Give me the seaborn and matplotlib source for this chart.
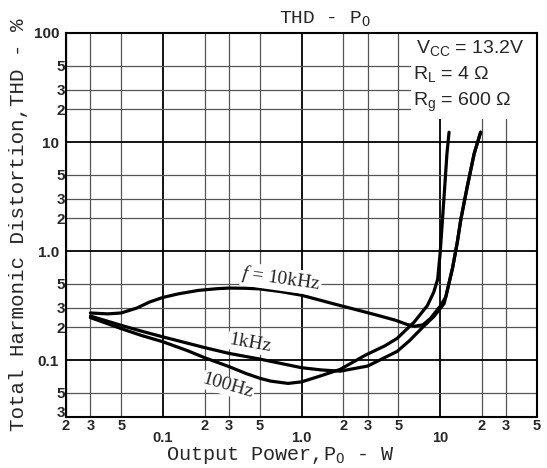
import numpy as np
import pandas as pd
import matplotlib
matplotlib.use("Agg")
import matplotlib.pyplot as plt
import seaborn as sns
from matplotlib.ticker import FixedLocator, FixedFormatter
from matplotlib.patches import Rectangle

# ---- data (log-log) ----
p_100hz = [0.03, 0.04, 0.05, 0.07, 0.1, 0.15, 0.2, 0.3, 0.4, 0.5, 0.6, 0.8, 1.0, 1.35,
           1.9, 2.9, 4.0, 4.9, 6.5, 8.1, 9.0, 9.6, 10.0, 10.4, 10.8, 11.2, 11.6]
thd_100hz = [0.245, 0.215, 0.194, 0.168, 0.147, 0.122, 0.105, 0.087, 0.075, 0.068, 0.064,
             0.061, 0.063, 0.071, 0.082, 0.111, 0.135, 0.158, 0.223, 0.316, 0.42, 0.55,
             0.95, 1.94, 3.9, 7.8, 12.3]

p_1khz = [0.03, 0.05, 0.07, 0.1, 0.2, 0.3, 0.5, 1.0, 1.4, 1.9, 3.0, 4.9, 6.0, 7.5, 9.0,
          10.7, 12.3, 13.3, 14.1, 15.7, 17.6, 19.6]
thd_1khz = [0.253, 0.208, 0.184, 0.163, 0.13, 0.115, 0.102, 0.085, 0.081, 0.079, 0.088,
            0.12, 0.15, 0.2, 0.25, 0.33, 0.7, 1.2, 1.94, 3.9, 7.8, 12.3]

p_10khz = [0.03, 0.04, 0.05, 0.065, 0.08, 0.1, 0.13, 0.18, 0.25, 0.3, 0.4, 0.5, 0.7, 1.0,
           1.7, 2.6, 3.5, 4.8, 5.7, 6.5, 7.5, 8.5, 10.1, 11.0, 12.3, 13.3, 14.1, 15.7,
           17.6, 19.6]
thd_10khz = [0.27, 0.265, 0.27, 0.3, 0.34, 0.375, 0.405, 0.435, 0.452, 0.457, 0.455, 0.449,
             0.425, 0.393, 0.328, 0.285, 0.258, 0.231, 0.213, 0.204, 0.21, 0.24, 0.316,
             0.38, 0.7, 1.2, 1.94, 3.9, 7.8, 12.3]

x_major = [0.1, 1, 10]
x_major_labels = ["0.1", "1.0", "10"]
x_minor = [0.02, 0.03, 0.05, 0.2, 0.3, 0.5, 2, 3, 5, 20, 30, 50]
x_minor_labels = ["2", "3", "5", "2", "3", "5", "2", "3", "5", "2", "3", "5"]
y_major = [0.1, 1, 10, 100]
y_major_labels = ["0.1", "1.0", "10", "100"]
y_minor = [0.03, 0.05, 0.2, 0.3, 0.5, 2, 3, 5, 20, 30, 50]
y_minor_labels = ["3", "5", "2", "3", "5", "2", "3", "5", "2", "3", "5"]

df = pd.concat([
    pd.DataFrame({"P": p_100hz, "THD": thd_100hz, "f": "100Hz"}),
    pd.DataFrame({"P": p_1khz, "THD": thd_1khz, "f": "1kHz"}),
    pd.DataFrame({"P": p_10khz, "THD": thd_10khz, "f": "10kHz"}),
], ignore_index=True)

sns.set_style("white")
plt.rcParams["mathtext.fontset"] = "custom"
plt.rcParams["mathtext.it"] = "Liberation Serif:italic"
plt.rcParams["mathtext.default"] = "regular"

fig = plt.figure(figsize=(5.47, 4.68), dpi=100)
ax = fig.add_axes([66 / 547, 1 - 417 / 468, (537 - 66) / 547, (417 - 33) / 468])

sns.lineplot(data=df, x="P", y="THD", hue="f", estimator=None, sort=False,
             palette=["black", "black", "black"], linewidth=2.3, legend=False, ax=ax)

ax.set_xscale("log")
ax.set_yscale("log")
ax.set_xlim(0.02, 50)
ax.set_ylim(0.03, 100)

ax.xaxis.set_major_locator(FixedLocator(x_major))
ax.xaxis.set_major_formatter(FixedFormatter(x_major_labels))
ax.xaxis.set_minor_locator(FixedLocator(x_minor))
ax.xaxis.set_minor_formatter(FixedFormatter(x_minor_labels))
ax.yaxis.set_major_locator(FixedLocator(y_major))
ax.yaxis.set_major_formatter(FixedFormatter(y_major_labels))
ax.yaxis.set_minor_locator(FixedLocator(y_minor))
ax.yaxis.set_minor_formatter(FixedFormatter(y_minor_labels))

ax.set_axisbelow(True)
ax.grid(which="major", color="black", linewidth=1.3)
ax.grid(which="minor", color="#555555", linewidth=0.9)

ax.tick_params(axis="x", which="major", length=0, pad=10, labelsize=10.5)
ax.tick_params(axis="x", which="minor", length=0, pad=1.5, labelsize=10.5)
ax.tick_params(axis="y", which="major", length=0, pad=5, labelsize=11)
ax.tick_params(axis="y", which="minor", length=0, pad=0.5, labelsize=11)
for lab in ax.get_xticklabels(which="both") + ax.get_yticklabels(which="both"):
    lab.set_fontfamily("Liberation Sans")
    lab.set_fontweight("bold")
# bottom-left "3" sits just above the corner, as in the reference
ax.yaxis.get_minor_ticks()[0].label1.set_va("baseline")

for sp in ax.spines.values():
    sp.set_color("black")
    sp.set_linewidth(1.5)
    sp.set_visible(True)

mono = "Liberation Mono"
ax.set_title(r"THD - P$_O$", family=mono, fontsize=14, pad=7, x=0.55)
ax.set_xlabel(r"Output Power,P$_O$ - W", family=mono, fontsize=14.5, labelpad=0, x=0.454)
ax.set_ylabel("Total Harmonic Distortion,THD - %", family=mono, fontsize=15, labelpad=4)

# white box behind the conditions text
ax.add_patch(Rectangle((6.2, 16.4), 50 - 6.2, 100 - 16.4, facecolor="white",
                       edgecolor="none", zorder=1.5))
cond_kw = dict(family="Liberation Sans", fontsize=14, va="baseline", ha="left", zorder=3)
ax.text(6.73, 65.4, r"V$_{CC}$ = 13.2V", **cond_kw)
ax.text(6.4, 37.8, r"R$_L$ = 4 Ω", **cond_kw)
ax.text(6.4, 21.6, r"R$_g$ = 600 Ω", **cond_kw)

lab_kw = dict(family="Liberation Serif", fontsize=14, ha="center", va="center", zorder=3,
              bbox=dict(facecolor="white", edgecolor="none", pad=0.5))
ax.text(0.714, 0.553, r"$\mathit{f}$ = 10kHz", rotation=-8, **lab_kw)
ax.text(0.423, 0.142, "1kHz", rotation=-10, **lab_kw)
ax.text(0.295, 0.0573, "100Hz", rotation=-16, **lab_kw)

fig.savefig("out.png", dpi=100)
